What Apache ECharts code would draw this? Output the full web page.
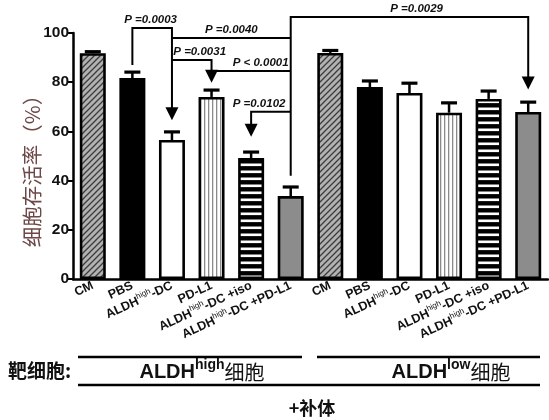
<!DOCTYPE html>
<html><head><meta charset="utf-8">
<script src="https://cdn.jsdelivr.net/npm/echarts@6/dist/echarts.min.js"></script>
<style>html,body{margin:0;padding:0;background:#fff}#c{width:549px;height:420px}</style>
</head><body><div id="c"></div>
<script>
// ---- data ----
const categories = ['CM','PBS','ALDH^high-DC','PD-L1','ALDH^high-DC +iso','ALDH^high-DC +PD-L1',
                    'CM','PBS','ALDH^high-DC','PD-L1','ALDH^high-DC +iso','ALDH^high-DC +PD-L1'];
const survival = [91.8, 81.7, 56.5, 74.0, 49.2, 33.7, 91.9, 78.0, 75.6, 67.6, 73.2, 67.9];
const sem      = [0.6, 2.4, 3.3, 2.8, 2.4, 3.7, 1.0, 2.5, 4.0, 4.0, 3.2, 4.0];
const fills    = ['hatch','black','white','vlines','hlines','gray','hatch','black','white','vlines','hlines','gray'];
const yTicks   = [0, 20, 40, 60, 80, 100];

// significance annotations: path in (category index, value), arrow at end?, label, label anchor
const pLabels   = ['P =0.0003','P =0.0040','P =0.0031','P < 0.0001','P =0.0102','P =0.0029'];
const pPaths    = [
  [[1,87],[1,102],[2,102],[2,64.5]],
  [[2,98],[5,98]],
  [[2,89],[3,89],[3,79.8]],
  [[3,84.6],[5,84.6]],
  [[5,68],[4,68],[4,57.8]],
  [[5,42],[5,106.5],[11,106.5],[11,77]]
];
const pArrow    = [true, false, true, false, true, true];
const pLabelPos = [[1.46,102],[3.5,98],[2.7,89],[4.24,84.6],[4.2,68],[8.18,106.5]];

// ---- patterns ----
function pattern(kind){
  const c = document.createElement('canvas');
  const g = c.getContext('2d');
  if (kind === 'hatch') {
    c.width = 6; c.height = 6;
    g.fillStyle = '#b2b2b2'; g.fillRect(0,0,6,6);
    g.strokeStyle = '#3c3c3c'; g.lineWidth = 1.3;
    g.beginPath();
    g.moveTo(-1,7); g.lineTo(7,-1);
    g.moveTo(-4,4); g.lineTo(4,-4);
    g.moveTo(2,10); g.lineTo(10,2);
    g.stroke();
  } else if (kind === 'vlines') {
    c.width = 4; c.height = 4;
    g.fillStyle = '#ffffff'; g.fillRect(0,0,4,4);
    g.fillStyle = '#8a8a8a'; g.fillRect(0,0,1.3,4);
  } else if (kind === 'hlines') {
    c.width = 4; c.height = 7;
    g.fillStyle = '#000000'; g.fillRect(0,0,4,7);
    g.fillStyle = '#ffffff'; g.fillRect(0,2.5,4,2.6);
  } else {
    return {black:'#000000', white:'#ffffff', gray:'#8c8c8c'}[kind];
  }
  return {image: c, repeat: 'repeat'};
}

const chart = echarts.init(document.getElementById('c'), null, {renderer:'canvas'});

function fmtLabel(s){ return s.replace('^high', '{sup|high}'); }

function interpX(api, xi, v){
  const f = Math.floor(xi), cidx = Math.ceil(xi);
  const p0 = api.coord([f, v]);
  if (f === cidx) return p0;
  const p1 = api.coord([cidx, v]);
  const t = xi - f;
  return [p0[0] + (p1[0]-p0[0])*t, p0[1]];
}

const option = {
  animation: false,
  backgroundColor: '#ffffff',
  grid: {left: 73, right: 1, top: 33, bottom: 141, containLabel: false},
  xAxis: {
    type: 'category',
    data: categories,
    boundaryGap: true,
    axisLine: {lineStyle: {color:'#000', width: 2.5}},
    axisTick: {alignWithLabel: true, length: 5, lineStyle: {color:'#000', width: 2}},
    axisLabel: {
      interval: 0, rotate: 25, margin: 6,
      formatter: v => fmtLabel(v),
      color: '#111', fontFamily: 'Arial, Liberation Sans', fontWeight: 'bold', fontSize: 12.5,
      lineHeight: 16,
      rich: {
        sup: {fontSize: 8, fontWeight: 'normal', fontFamily: 'Arial, Liberation Sans', color:'#111', verticalAlign: 'top', lineHeight: 9, padding:[0,0,7,0]}
      }
    }
  },
  yAxis: {
    type: 'value', min: 0, max: 100, interval: 20,
    name: '细胞存活率（%）',
    nameLocation: 'middle', nameGap: 31, nameRotate: 90, nameMoveOverlap: false,
    nameTextStyle: {fontFamily: 'Noto Sans CJK SC', fontSize: 20.5, color: '#6e4747', padding: [0, 20, 0, 0]},
    axisLine: {show: true, lineStyle: {color:'#000', width: 2.5}},
    axisTick: {show: true, length: 5, lineStyle: {color:'#000', width: 2}},
    splitLine: {show: false},
    axisLabel: {
      margin: 4, color:'#111', fontFamily:'Arial, Liberation Sans', fontWeight:'bold', fontSize: 15.5,
      formatter: v => yTicks.includes(v) ? String(v) : ''
    }
  },
  series: [
    {
      type: 'bar', barWidth: 26,
      data: survival.map((v,i) => ({value: v, itemStyle: {color: pattern(fills[i]), borderColor:'#000', borderWidth: 2.6}})),
      z: 2
    },
    {
      type: 'custom', z: 3, clip: false,
      data: survival.map((v,i) => [i, v, sem[i]]),
      renderItem: (params, api) => {
        const i = api.value(0), v = api.value(1), e = api.value(2);
        const b = api.coord([i, v]), t = api.coord([i, v + e]);
        return {type:'group', children:[
          {type:'line', shape:{x1:b[0], y1:b[1], x2:b[0], y2:t[1]}, style:{stroke:'#000', lineWidth:2.5}},
          {type:'line', shape:{x1:b[0]-8, y1:t[1], x2:b[0]+8, y2:t[1]}, style:{stroke:'#000', lineWidth:3.2}}
        ]};
      }
    },
    {
      type: 'custom', z: 4, clip: false, silent: true,
      data: pLabels.map((l,i) => [i]),
      renderItem: (params, api) => {
        const k = params.dataIndex;
        const pts = pPaths[k].map(p => api.coord(p));
        const children = [];
        const ah = 13, aw = 6.5;
        const linePts = pts.map(p => p.slice());
        if (pArrow[k]) {
          const n = linePts.length - 1;
          linePts[n] = [linePts[n][0], linePts[n][1] - ah + 1];
          const tip = pts[n];
          children.push({type:'polygon', shape:{points:[[tip[0]-aw, tip[1]-ah],[tip[0]+aw, tip[1]-ah],[tip[0], tip[1]]]}, style:{fill:'#000'}});
        }
        children.push({type:'polyline', shape:{points: linePts}, style:{stroke:'#000', lineWidth:2, fill:null}});
        const lp = interpX(api, pLabelPos[k][0], pLabelPos[k][1]);
        children.push({type:'text', x: lp[0], y: lp[1] - 2, style:{
          text: pLabels[k], align:'center', verticalAlign:'bottom',
          fontFamily:'Arial, Liberation Sans', fontWeight:'bold', fontStyle:'italic', fontSize: 11.5, fill:'#111'
        }});
        return {type:'group', children};
      }
    }
  ],
  graphic: [
    {type:'text', left: 8, top: 361, style:{text:'靶细胞:', fontFamily:'Noto Sans CJK SC', fontSize: 19, fontWeight:'bold', fill:'#111'}},
    {type:'line', shape:{x1:78, y1:357, x2:302, y2:357}, style:{stroke:'#000', lineWidth:2.5}},
    {type:'line', shape:{x1:317, y1:357, x2:540, y2:357}, style:{stroke:'#000', lineWidth:2.5}},
    {type:'line', shape:{x1:78, y1:385, x2:540, y2:385}, style:{stroke:'#000', lineWidth:2.5}},
    {type:'text', x: 202, y: 382, style:{
      text:'{a|ALDH}{s|high}{c|细胞}', align:'center', verticalAlign:'bottom',
      rich:{
        a:{fontFamily:'Arial, Liberation Sans', fontWeight:'bold', fontSize:20, fill:'#111', lineHeight:24, verticalAlign:'bottom'},
        s:{fontFamily:'Arial, Liberation Sans', fontWeight:'bold', fontSize:14, fill:'#111', lineHeight:24, verticalAlign:'top', padding:[0,0,0,0]},
        c:{fontFamily:'Noto Sans CJK SC', fontSize:20, fill:'#111', lineHeight:24, verticalAlign:'bottom'}
      }
    }},
    {type:'text', x: 451, y: 382, style:{
      text:'{a|ALDH}{s|low}{c|细胞}', align:'center', verticalAlign:'bottom',
      rich:{
        a:{fontFamily:'Arial, Liberation Sans', fontWeight:'bold', fontSize:20, fill:'#111', lineHeight:24, verticalAlign:'bottom'},
        s:{fontFamily:'Arial, Liberation Sans', fontWeight:'bold', fontSize:14, fill:'#111', lineHeight:24, verticalAlign:'top'},
        c:{fontFamily:'Noto Sans CJK SC', fontSize:20, fill:'#111', lineHeight:24, verticalAlign:'bottom'}
      }
    }},
    {type:'text', x: 312, y: 408, style:{text:'+补体', align:'center', verticalAlign:'middle', fontFamily:'Noto Sans CJK SC', fontWeight:'bold', fontSize:18, fill:'#111'}}
  ]
};
chart.setOption(option);
</script></body></html>
